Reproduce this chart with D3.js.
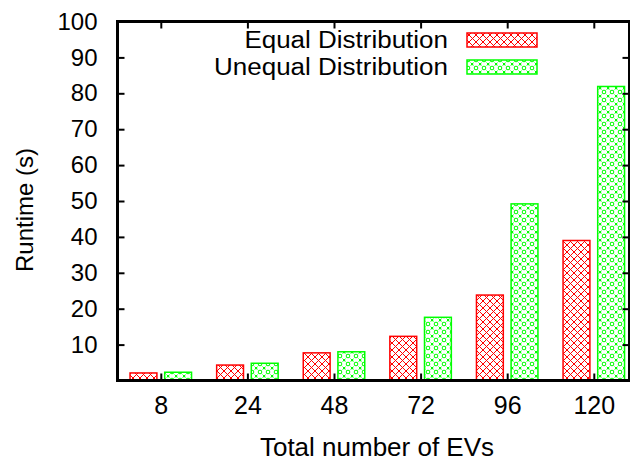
<!DOCTYPE html>
<html>
<head>
<meta charset="utf-8">
<script src="https://cdn.jsdelivr.net/npm/d3@7"></script>
<style>
  html, body { margin: 0; padding: 0; background: #fff; }
  svg { display: block; font-family: "Liberation Sans", Arial, sans-serif; }
</style>
</head>
<body>
<svg id="chart" width="630" height="464"></svg>
<script>
// Runtime by fleet size, for two distribution strategies
const categories = ["8", "24", "48", "72", "96", "120"];
const equalRuntime = [2.1, 4.3, 7.7, 12.3, 23.8, 39.0];
const unequalRuntime = [2.3, 4.8, 8.0, 17.6, 49.2, 81.9];
const yTicks = [10, 20, 30, 40, 50, 60, 70, 80, 90, 100];
const seriesNames = ["Equal Distribution", "Unequal Distribution"];

const plot = { left: 117.5, top: 21.5, right: 629.5, bottom: 380.5 };
const FONT = "Liberation Sans, Arial, sans-serif";

const svg = d3.select("#chart");

// Fill patterns: red crosshatch and green ring/dot texture
const defs = svg.append("defs");
const hatch = defs.append("pattern")
  .attr("id", "hatchRed").attr("patternUnits", "userSpaceOnUse")
  .attr("width", 7).attr("height", 7);
hatch.append("rect").attr("width", 7).attr("height", 7).attr("fill", "#fff");
hatch.append("path").attr("d", "M0,0L7,7M7,0L0,7M-1,6L1,8M6,-1L8,1")
  .attr("stroke", "#ff0000").attr("stroke-width", 1).attr("fill", "none");

const dots = defs.append("pattern")
  .attr("id", "dotGreen").attr("patternUnits", "userSpaceOnUse")
  .attr("width", 8).attr("height", 8);
dots.append("rect").attr("width", 8).attr("height", 8).attr("fill", "#fff");
dots.append("circle").attr("cx", 4).attr("cy", 4).attr("r", 1.8)
  .attr("fill", "none").attr("stroke", "#00ff00").attr("stroke-width", 1);
dots.append("path").attr("d", "M0,0h1.2v1.2h-1.2zM7,0h1v1.2h-1zM0,7h1.2v1h-1.2zM7,7h1v1h-1z")
  .attr("fill", "#00ff00");
dots.append("path").attr("d", "M1.5,1.5L2.5,2.5M6.5,1.5L5.5,2.5M1.5,6.5L2.5,5.5M6.5,6.5L5.5,5.5")
  .attr("stroke", "#00ff00").attr("stroke-width", 0.8);

// Scales
const groupStep = 86.6;
const x = d3.scaleLinear()
  .domain([-0.5, 5.5])
  .range([plot.left, plot.left + 6 * groupStep]);
const y = d3.scaleLinear().domain([0, 100]).range([380.5, 21.5]);

const barHalfGap = 0.045, barWidthU = 0.31;

const g = svg.append("g");

// Bars
const seriesData = [
  { name: seriesNames[0], values: equalRuntime, fill: "url(#hatchRed)", stroke: "#ff0000", off: -barHalfGap - barWidthU },
  { name: seriesNames[1], values: unequalRuntime, fill: "url(#dotGreen)", stroke: "#00ff00", off: barHalfGap }
];

seriesData.forEach(s => {
  g.selectAll(null).data(s.values).enter().append("rect")
    .attr("x", (d, i) => x(i + s.off))
    .attr("width", x(barWidthU) - x(0))
    .attr("y", d => y(d))
    .attr("height", d => y(0) - y(d))
    .attr("fill", s.fill)
    .attr("stroke", s.stroke)
    .attr("stroke-width", 1.5);
});

// Axes: left with inward ticks, bottom with inward ticks at group centres
const yAxis = d3.axisLeft(y).tickValues(yTicks).tickSize(-7).tickPadding(20).tickFormat(d3.format("d"));
const yG = svg.append("g").attr("transform", `translate(${plot.left},0)`).call(yAxis);
yG.select(".domain").remove();
yG.selectAll(".tick line").attr("stroke", "#000").attr("stroke-width", 2);
yG.selectAll(".tick text").attr("font-size", 24).attr("fill", "#000").attr("font-family", FONT);

// Right-side mirrored y ticks
svg.append("g").attr("transform", `translate(${plot.right},0)`)
  .call(d3.axisRight(y).tickValues(yTicks).tickSize(-7).tickFormat(""))
  .call(a => a.select(".domain").remove())
  .selectAll(".tick line").attr("stroke", "#000").attr("stroke-width", 2);

const xAxis = d3.axisBottom(x).tickValues(d3.range(categories.length))
  .tickSize(-7).tickPadding(16).tickFormat(i => categories[i]);
const xG = svg.append("g").attr("transform", `translate(0,${plot.bottom})`).call(xAxis);
xG.select(".domain").remove();
xG.selectAll(".tick line").attr("stroke", "#000").attr("stroke-width", 2);
xG.selectAll(".tick text").attr("font-size", 25).attr("fill", "#000").attr("font-family", FONT);

// Top mirrored x ticks
svg.append("g").attr("transform", `translate(0,${plot.top})`)
  .call(d3.axisTop(x).tickValues(d3.range(categories.length)).tickSize(-7).tickFormat(""))
  .call(a => a.select(".domain").remove())
  .selectAll(".tick line").attr("stroke", "#000").attr("stroke-width", 2);

// Border
svg.append("rect")
  .attr("x", plot.left).attr("y", plot.top)
  .attr("width", plot.right - plot.left).attr("height", plot.bottom - plot.top)
  .attr("fill", "none").attr("stroke", "#000").attr("stroke-width", 3);

// Axis titles
svg.append("text")
  .attr("x", 377).attr("y", 456)
  .attr("text-anchor", "middle").attr("font-size", 26).attr("fill", "#000")
  .text("Total number of EVs");
svg.append("text")
  .attr("transform", "translate(33,210) rotate(-90)")
  .attr("text-anchor", "middle").attr("font-size", 24).attr("fill", "#000")
  .text("Runtime (s)");

// Legend: labels are slightly widened, right-aligned against the swatches
const legend = svg.append("g");
seriesData.forEach((s, i) => {
  const yy = 33 + i * 27;
  legend.append("text")
    .attr("transform", `translate(448,${yy + 15}) scale(1.13,1)`)
    .attr("text-anchor", "end").attr("font-size", 23).attr("fill", "#000")
    .text(s.name);
  legend.append("rect")
    .attr("x", 467).attr("y", yy).attr("width", 70).attr("height", 14)
    .attr("fill", s.fill).attr("stroke", s.stroke).attr("stroke-width", 1.5);
});
</script>
</body>
</html>
